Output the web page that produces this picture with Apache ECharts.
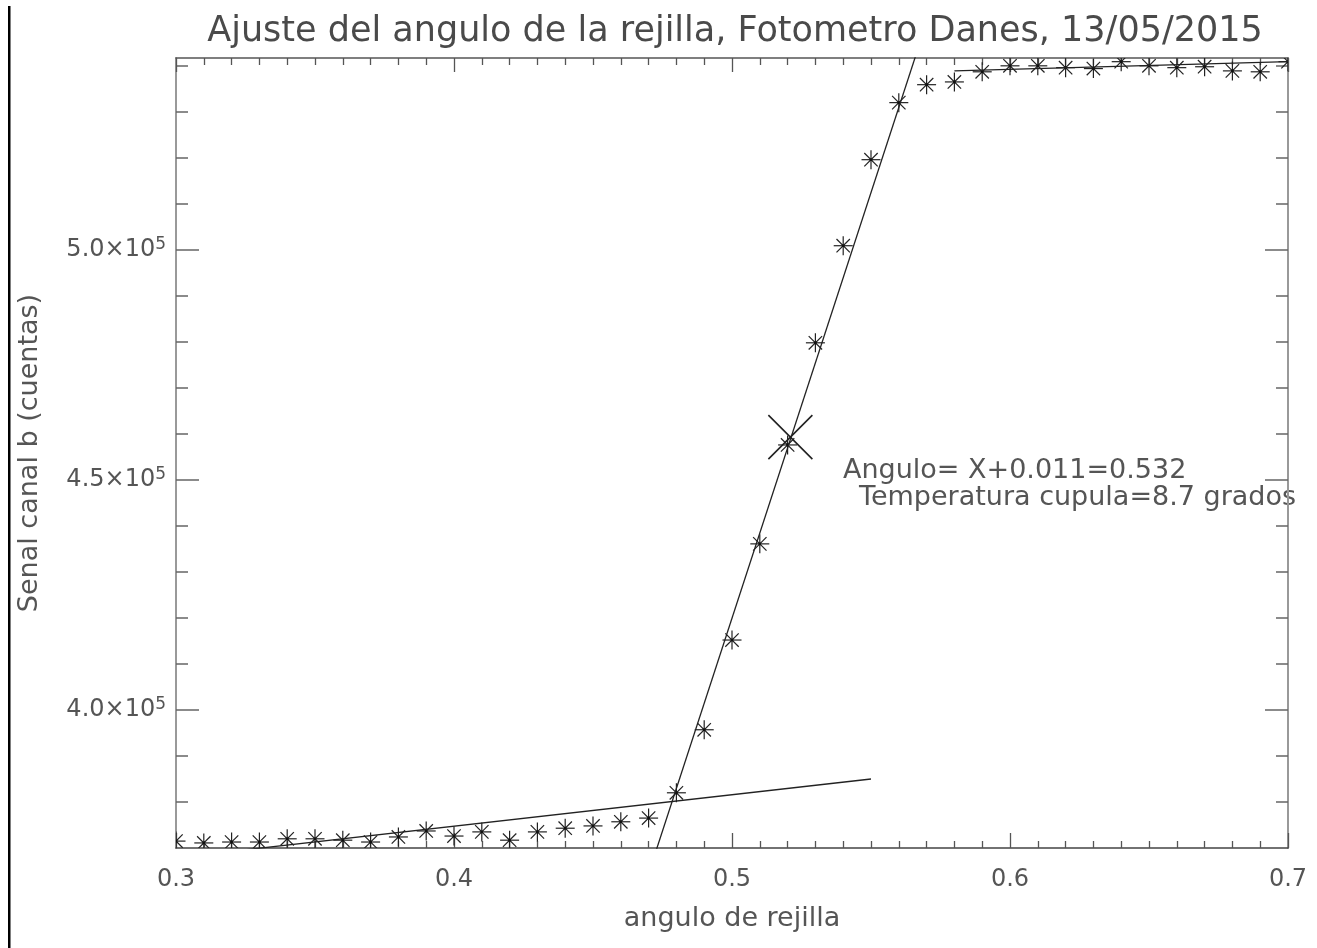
<!DOCTYPE html>
<html>
<head>
<meta charset="utf-8">
<script src="https://cdn.jsdelivr.net/npm/echarts@6/dist/echarts.min.js"></script>
<style>
html,body{margin:0;padding:0;background:#fff;}
#chart{width:1317px;height:948px;}
</style>
</head>
<body>
<div id="chart"></div>
<script>
// ---- data ----
const angles = [0.30,0.31,0.32,0.33,0.34,0.35,0.36,0.37,0.38,0.39,
                0.40,0.41,0.42,0.43,0.44,0.45,0.46,0.47,0.48,0.49,
                0.50,0.51,0.52,0.53,0.54,0.55,0.56,0.57,0.58,0.59,
                0.60,0.61,0.62,0.63,0.64,0.65,0.66,0.67,0.68,0.69,0.70];
const signal = [371500,371100,371300,371300,372000,372000,371700,371300,372400,373700,
                372600,373500,371700,373500,374300,374800,375700,376500,382000,395700,
                415200,436100,457600,479800,500900,519600,532000,535900,536500,538700,
                540000,540000,539600,539400,540900,540000,539600,539800,538900,538700,
                540900];
// fitted lines (endpoints)
const lowFitX  = [0.30, 0.55];
const lowFitY  = [367900, 385000];
const steepFitX = [0.470, 0.570];
const steepFitY = [364450, 549450];
const highFitX = [0.58, 0.70];
const highFitY = [538900, 540900];
// fitted centre marker
const centreX = 0.521;
const centreY = 459300;

const titleText = 'Ajuste del angulo de la rejilla, Fotometro Danes, 13/05/2015';
const xName = 'angulo de rejilla';
const yName = 'Senal canal b (cuentas)';
const note1 = 'Angulo= X+0.011=0.532';
const note2 = 'Temperatura cupula=8.7 grados';

// ---- axis ticks ----
const xMin = 0.3, xMax = 0.7;
const yMin = 370000, yMax = 541700;
const xMajorTicks = [0.3,0.4,0.5,0.6,0.7];
const yMajorTicks = [400000,450000,500000];
const xMinorTicks = [];
for (let i = 30; i <= 70; i++) { if (i % 10 !== 0) xMinorTicks.push(i/100); }
const yMinorTicks = [];
for (let v = 380000; v <= 540000; v += 10000) { if (v % 50000 !== 0) yMinorTicks.push(v); }

const FONT = 'DejaVu Sans';
const TXT = '#555';
const pts = angles.map((a,i)=>[a, signal[i]]);
const toPairs = (xs, ys) => xs.map((x,i)=>[x, ys[i]]);

const bigX = 'path://M-10,-10L10,10M-10,10L10,-10';

function xAx(pos, ticks, len, showLabel, lineColor){
  return {
    type:'value', min:xMin, max:xMax, position:pos, offset:0,
    axisLine:{show:lineColor!==null, onZero:false, lineStyle:{color:lineColor||'#000', width:1.5}},
    axisTick:{show:true, inside:true, length:len, customValues:ticks, lineStyle:{color:'#555', width:1.3}},
    axisLabel:{show:showLabel, customValues:xMajorTicks, margin:20, fontSize:24, fontFamily:FONT, color:TXT,
      formatter:v=>v.toFixed(1)},
    splitLine:{show:false},
    name: showLabel ? xName : '', nameLocation:'middle', nameGap:57,
    nameTextStyle:{fontSize:27, fontFamily:FONT, color:TXT}
  };
}
function yAx(pos, ticks, len, showLabel, lineColor){
  return {
    type:'value', min:yMin, max:yMax, position:pos, offset:0,
    axisLine:{show:lineColor!==null, onZero:false, lineStyle:{color:lineColor||'#000', width:2}},
    axisTick:{show:true, inside:true, length:len, customValues:ticks, lineStyle:{color:'#666', width:1.5}},
    axisLabel:{show:showLabel, customValues:yMajorTicks, margin:10, fontFamily:FONT, color:TXT,
      formatter:v=>'{m|'+(v/1e5).toFixed(1)+'×10}{s|5}',
      rich:{ m:{fontSize:24, fontFamily:FONT, color:TXT},
             s:{fontSize:17, fontFamily:FONT, color:TXT, verticalAlign:'top', padding:[0,0,10,0]} }},
    splitLine:{show:false},
    name: showLabel ? yName : '', nameLocation:'middle', nameGap:133, nameRotate:90,
    nameTextStyle:{fontSize:27, fontFamily:FONT, color:TXT}
  };
}

function renderAsterisk(params, api){
  const p = api.coord([api.value(0), api.value(1)]);
  const r = 9.5, d = 6.7;
  const st = {stroke:'#222', lineWidth:1.2};
  return {
    type:'group', x:p[0], y:p[1],
    children:[
      {type:'line', shape:{x1:0,y1:-r,x2:0,y2:r}, style:st},
      {type:'line', shape:{x1:-r,y1:0,x2:r,y2:0}, style:st},
      {type:'line', shape:{x1:-d,y1:-d,x2:d,y2:d}, style:st},
      {type:'line', shape:{x1:-d,y1:d,x2:d,y2:-d}, style:st},
      {type:'rect', shape:{x:-1.3,y:-1.3,width:2.6,height:2.6}, style:{fill:'#111'}}
    ]
  };
}

const chart = echarts.init(document.getElementById('chart'), null, {renderer:'canvas'});
chart.setOption({
  backgroundColor:'#fff',
  animation:false,
  title:{text:titleText, left:730, top:9, textAlign:'center',
    textStyle:{fontSize:35, fontWeight:'normal', fontFamily:FONT, color:'#4a4a4a'}},
  grid:{left:176, right:29, top:58, bottom:100, containLabel:false},
  xAxis:[
    xAx('bottom', xMajorTicks, 15, true, '#444'),
    xAx('bottom', xMinorTicks, 7, false, null),
    xAx('top', xMajorTicks, 14, false, '#555'),
    xAx('top', xMinorTicks, 7, false, null)
  ],
  yAxis:[
    yAx('left', yMajorTicks, 23, true, '#999'),
    yAx('left', yMinorTicks, 12, false, null),
    yAx('right', yMajorTicks, 23, false, '#999'),
    yAx('right', yMinorTicks, 12, false, null)
  ],
  series:[
    {type:'line', data:toPairs(lowFitX, lowFitY), showSymbol:false, clip:true,
      lineStyle:{color:'#222', width:1.3}, silent:true},
    {type:'line', data:toPairs(steepFitX, steepFitY), showSymbol:false, clip:true,
      lineStyle:{color:'#222', width:1.3}, silent:true},
    {type:'line', data:toPairs(highFitX, highFitY), showSymbol:false, clip:true,
      lineStyle:{color:'#222', width:1.3}, silent:true},
    {type:'custom', data:pts, renderItem:renderAsterisk, clip:true, silent:true},
    {type:'scatter', data:[[centreX, centreY]], symbol:bigX, symbolSize:44, clip:true,
      itemStyle:{color:'none', borderColor:'#222', borderWidth:1.6, opacity:1}}
  ],
  graphic:[
    {type:'rect', left:8, top:6, shape:{width:2.5, height:942}, style:{fill:'#000'}},
    {type:'text', left:843, top:457, style:{text:note1, fontSize:27, fontFamily:FONT, fill:TXT}},
    {type:'text', left:859, top:484, style:{text:note2, fontSize:27, fontFamily:FONT, fill:TXT}}
  ]
});
</script>
</body>
</html>
